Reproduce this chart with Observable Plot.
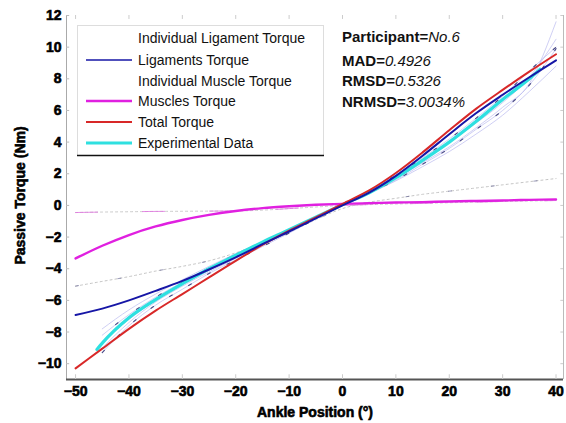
<!DOCTYPE html>
<html>
<head>
<meta charset="utf-8">
<script src="https://cdn.jsdelivr.net/npm/d3@7"></script>
<script src="https://cdn.jsdelivr.net/npm/@observablehq/plot@0.6"></script>
<style>
  html, body { margin: 0; padding: 0; background: #fff; }
  #chart svg { display: block; }
  g[aria-label$="tick label"] text { stroke: #000; stroke-width: 0.6px; paint-order: stroke; }
  .axlabel text { stroke: #000; stroke-width: 0.6px; }
</style>
</head>
<body>
<div id="chart"></div>
<script>
// ---- data ----
const xs = [-50,-45,-40,-35,-30,-25,-20,-15,-10,-5,0,5,10,15,20,25,30,35,40];
const ligaments = [-6.93,-6.52,-6.0,-5.4,-4.77,-4.05,-3.28,-2.45,-1.65,-0.82,0.0,0.81,1.87,3.14,4.5,5.82,6.99,8.1,9.17];
const muscles   = [-3.35,-2.55,-1.87,-1.33,-0.92,-0.6,-0.35,-0.17,-0.05,0.04,0.1,0.14,0.18,0.21,0.25,0.28,0.31,0.35,0.38];
const total     = [-10.3,-9.05,-7.8,-6.65,-5.6,-4.55,-3.5,-2.5,-1.6,-0.76,0.1,0.95,2.05,3.35,4.75,6.1,7.3,8.45,9.55];

const expX = [-46,-45,-40,-35,-30,-25,-20,-15,-10,-5,0,5,10,15,20,25,30,35,37];
const expY = [-9.1,-8.7,-7.1,-5.95,-4.95,-4.0,-3.15,-2.32,-1.54,-0.74,0.05,0.8,1.75,2.85,4.0,5.3,6.7,8.0,8.6];

// individual ligament torque curves (faint)
const indX = [-45,-40,-35,-30,-25,-20,-15,-10,-5,0,5,10,15,20,25,30,35,40];
const indLigA = [-9.3,-7.6,-6.3,-5.3,-4.3,-3.45,-2.6,-1.75,-0.85,0,0.8,1.6,2.6,3.6,4.8,6.0,7.6,9.9];
const indLigB = [-8.6,-7.2,-6.0,-5.0,-4.1,-3.25,-2.45,-1.6,-0.8,0,0.85,1.8,2.9,4.0,5.2,6.5,8.1,10.5];
const indLigC = [-7.8,-6.6,-5.6,-4.7,-3.85,-3.05,-2.3,-1.5,-0.75,0,0.8,1.7,2.7,3.7,4.9,6.2,7.7,11.6];
const indLigD = [-9.0,-7.4,-6.1,-5.1,-4.2,-3.35,-2.5,-1.65,-0.8,0,0.75,1.55,2.45,3.4,4.5,5.7,7.2,8.8];
const indLigE = [-8.2,-6.9,-5.8,-4.85,-3.95,-3.1,-2.35,-1.55,-0.75,0,0.9,1.9,3.0,4.2,5.5,6.9,8.5,10.0];

// individual muscle torque curves (faint)
const indMusA = [-5.1,-4.8,-4.5,-4.15,-3.85,-3.5,-3.0,-2.4,-1.7,-0.9,-0.2,0.2,0.45,0.7,0.9,1.1,1.3,1.5,1.7];
const indMusB = [-0.45,-0.42,-0.4,-0.38,-0.37,-0.36,-0.35,-0.3,-0.2,-0.1,0.0,0.05,0.09,0.13,0.17,0.21,0.25,0.28,0.31];

const xTicks = [-50,-40,-30,-20,-10,0,10,20,30,40];
const yTicks = [-10,-8,-6,-4,-2,0,2,4,6,8,10,12];

const legendLabels = ["Individual Ligament Torque","Ligaments Torque","Individual Muscle Torque","Muscles Torque","Total Torque","Experimental Data"];
const legendColors = [null,"#1616a6",null,"#e020e0","#d82828","#2ee0e0"];
const legendWidths = [0,1.6,0,2.6,2,3.2];

const statLabels = ["Participant=","MAD=","RMSD=","NRMSD="];
const statValues = ["No.6","0.4926","0.5326","3.0034%"];

// ---- build tables ----
const tbl = (X, Y) => X.map((x, i) => ({x, y: Y[i]}));
const indLig = [indLigA, indLigB, indLigC, indLigD, indLigE];
const cv = "monotone-x";

const plot = Plot.plot({
  width: 566,
  height: 423,
  marginLeft: 66,
  marginRight: 3,
  marginTop: 15,
  marginBottom: 44,
  x: {domain: [-51.7, 41.4]},
  y: {domain: [-11, 12]},
  style: {fontFamily: "'Liberation Sans', Arial, sans-serif", background: "#fff", color: "#000"},
  marks: [
    // frame pieces
    Plot.ruleX([-51.7], {stroke: "#aaa", strokeWidth: 1}),
    Plot.ruleX([41.4], {stroke: "#bbb", strokeWidth: 1}),
    Plot.ruleY([-11], {stroke: "#555", strokeWidth: 2}),
    // inside ticks
    Plot.ruleX(xTicks, {y1: -11, y2: -10.7, stroke: "#ccc"}),
    Plot.ruleX(xTicks, {y1: 12, y2: 11.75, stroke: "#ccc"}),
    Plot.ruleY(yTicks, {x1: -51.7, x2: -51.1, stroke: "#bbb"}),
    Plot.ruleY(yTicks, {x1: 41.4, x2: 40.9, stroke: "#ccc"}),
    // individual muscle torques
    Plot.line(tbl(xs, indMusA), {x: "x", y: "y", stroke: "#c4c4c4", strokeWidth: 1, strokeDasharray: "2,3", curve: cv}),
    Plot.line(tbl(xs, indMusA), {x: "x", y: "y", stroke: "#3a3a7a", strokeWidth: 1, strokeDasharray: "3,40", strokeOpacity: 0.5, curve: cv}),
    Plot.line(tbl(xs, indMusB), {x: "x", y: "y", stroke: "#c8c8c8", strokeWidth: 1, strokeDasharray: "2,3", curve: cv}),
    Plot.line(tbl(xs, indMusB), {x: "x", y: "y", stroke: "#e070e0", strokeWidth: 1, strokeDasharray: "22,45", strokeOpacity: 0.8, curve: cv}),
    // individual ligament torques
    ...indLig.map(Y => Plot.line(tbl(indX, Y), {x: "x", y: "y", stroke: "#b8b8ee", strokeWidth: 0.9, strokeOpacity: 0.75, curve: cv})),
    Plot.line(tbl(indX, indLigA), {x: "x", y: "y", stroke: "#10105a", strokeWidth: 1.2, strokeDasharray: "3,19", strokeOpacity: 0.7, curve: cv}),
    Plot.line(tbl(indX, indLigE), {x: "x", y: "y", stroke: "#10105a", strokeWidth: 1.2, strokeDasharray: "3,23", strokeDashoffset: 9, strokeOpacity: 0.7, curve: cv}),
    // experimental
    Plot.line(tbl(expX, expY), {x: "x", y: "y", stroke: "#2ee0e0", strokeWidth: 3.2, curve: cv}),
    // model curves
    Plot.line(tbl(xs, muscles), {x: "x", y: "y", stroke: "#e020e0", strokeWidth: 2.4, curve: cv}),
    Plot.line(tbl(xs, total), {x: "x", y: "y", stroke: "#d82828", strokeWidth: 2, curve: cv}),
    Plot.line(tbl(xs, ligaments), {x: "x", y: "y", stroke: "#1616a6", strokeWidth: 2, curve: cv}),
    // axes
    Plot.axisX(xTicks, {tickSize: 0, tickPadding: 7, fontSize: 14, fontWeight: "bold", label: null}),
    Plot.axisY(yTicks, {tickSize: 0, tickPadding: 5, fontSize: 14, fontWeight: "bold", label: null}),
    Plot.text(["Passive Torque (Nm)"], {frameAnchor: "left", dx: -46, dy: -2, rotate: -90, fontSize: 14, fontWeight: "bold", textAnchor: "middle", lineAnchor: "middle", className: "axlabel"}),
    Plot.text(["Ankle Position (°)"], {frameAnchor: "bottom", dy: 33, fontSize: 14, fontWeight: "bold", textAnchor: "middle", lineAnchor: "middle", className: "axlabel"})
  ]
});

document.getElementById("chart").appendChild(plot);

// ---- legend and stats annotation ----
const svg = d3.select(plot);
const lg = svg.append("g").attr("class", "legend").attr("text-anchor", "start");
lg.append("rect").attr("x", 77.5).attr("y", 25.5).attr("width", 246).attr("height", 130)
  .attr("fill", "#fff").attr("stroke", "#ddd");
lg.append("line").attr("x1", 77).attr("x2", 324).attr("y1", 155.5).attr("y2", 155.5).attr("stroke", "#111").attr("stroke-width", 1.5);
const rowY = [38, 60, 81, 101, 122, 143];
legendLabels.forEach((t, i) => {
  if (legendColors[i]) {
    lg.append("line").attr("x1", 86).attr("x2", 132).attr("y1", rowY[i]).attr("y2", rowY[i])
      .attr("stroke", legendColors[i]).attr("stroke-width", legendWidths[i]);
  }
  lg.append("text").attr("x", 138).attr("y", rowY[i]).attr("dy", "0.35em")
    .attr("text-anchor", "start").attr("font-size", 14).attr("fill", "#111").text(t);
});

const st = svg.append("g").attr("class", "stats").attr("text-anchor", "start");
const statY = [42, 66, 86, 107];
statLabels.forEach((t, i) => {
  const tx = st.append("text").attr("x", 342).attr("y", statY[i]).attr("text-anchor", "start")
    .attr("font-size", 15).attr("fill", "#111");
  tx.append("tspan").attr("font-weight", "bold").text(t);
  tx.append("tspan").attr("font-style", "italic").text(statValues[i]);
});
</script>
</body>
</html>
